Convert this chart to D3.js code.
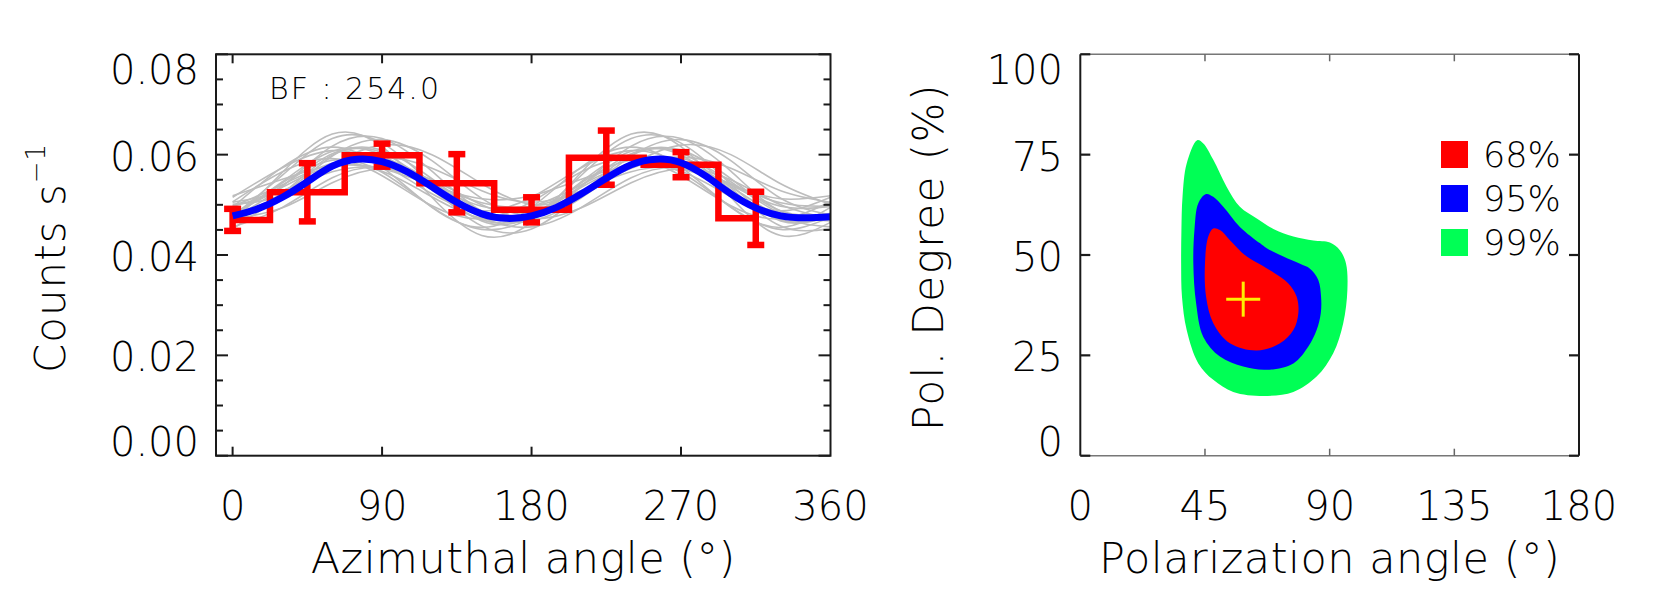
<!DOCTYPE html>
<html><head><meta charset="utf-8">
<script src="https://cdn.jsdelivr.net/npm/d3@7"></script>
<style>
body{margin:0;background:#fff}
svg{display:block}
text{font-family:"DejaVu Sans",sans-serif;font-weight:200;fill:#000}
</style>
</head><body>
<svg id="c" width="1661" height="608"></svg>
<script>
// ---------- data: left panel (modulation curve) ----------
const binCenters = [0, 45, 90, 135, 180, 225, 270, 315];
const binCounts  = [0.0470, 0.0525, 0.0599, 0.0543, 0.0490, 0.0594, 0.0580, 0.0473];
const binErrors  = [0.0022, 0.0058, 0.0023, 0.0058, 0.0025, 0.0054, 0.0025, 0.0053];

const fitAngles = [0,15,30,45,60,75,90,105,120,135,150,165,180,195,210,225,240,255,270,285,300,315,330,345,360];
const fitCounts = [0.0478,0.0492,0.0515,0.0546,0.0577,0.0591,0.0586,0.0566,0.0536,0.0505,0.0482,0.0473,0.0478,
                   0.0495,0.0522,0.0553,0.0580,0.0591,0.0584,0.0557,0.0522,0.0494,0.0478,0.0474,0.0476];

const simAngles = [0,30,60,90,120,150,180,210,240,270,300,330,360];
const sim01 = [0.0465,0.0565,0.0641,0.0616,0.0515,0.0439,0.0465,0.0565,0.0641,0.0616,0.0515,0.0439,0.0465];
const sim02 = [0.0477,0.0559,0.0632,0.0623,0.0541,0.0468,0.0477,0.0559,0.0632,0.0623,0.0541,0.0468,0.0477];
const sim03 = [0.0495,0.0575,0.0615,0.0575,0.0495,0.0455,0.0495,0.0575,0.0615,0.0575,0.0495,0.0455,0.0495];
const sim04 = [0.0481,0.0538,0.0602,0.0609,0.0552,0.0488,0.0481,0.0538,0.0602,0.0609,0.0552,0.0488,0.0481];
const sim05 = [0.0468,0.0514,0.0577,0.0593,0.0546,0.0483,0.0468,0.0514,0.0577,0.0593,0.0546,0.0483,0.0468];
const sim06 = [0.0480,0.0522,0.0597,0.0630,0.0588,0.0513,0.0480,0.0522,0.0597,0.0630,0.0588,0.0513,0.0480];
const sim07 = [0.0501,0.0520,0.0579,0.0619,0.0600,0.0542,0.0501,0.0520,0.0579,0.0619,0.0600,0.0542,0.0501];
const sim08 = [0.0483,0.0535,0.0577,0.0567,0.0516,0.0473,0.0483,0.0535,0.0577,0.0567,0.0516,0.0473,0.0483];
const sim09 = [0.0497,0.0540,0.0583,0.0583,0.0540,0.0497,0.0497,0.0540,0.0583,0.0583,0.0540,0.0497,0.0497];
const sim10 = [0.0475,0.0544,0.0589,0.0565,0.0496,0.0451,0.0475,0.0544,0.0589,0.0565,0.0496,0.0451,0.0475];
const sim11 = [0.0497,0.0528,0.0566,0.0573,0.0542,0.0504,0.0497,0.0528,0.0566,0.0573,0.0542,0.0504,0.0497];
const sim12 = [0.0515,0.0574,0.0608,0.0582,0.0522,0.0488,0.0515,0.0574,0.0608,0.0582,0.0522,0.0488,0.0515];
const sim13 = [0.0452,0.0522,0.0599,0.0604,0.0534,0.0458,0.0452,0.0522,0.0599,0.0604,0.0534,0.0458,0.0452];
const sim14 = [0.0505,0.0528,0.0573,0.0595,0.0573,0.0528,0.0505,0.0528,0.0573,0.0595,0.0573,0.0528,0.0505];
const sim15 = [0.0456,0.0495,0.0554,0.0574,0.0536,0.0476,0.0456,0.0495,0.0554,0.0574,0.0536,0.0476,0.0456];
const sim16 = [0.0477,0.0546,0.0607,0.0599,0.0530,0.0470,0.0477,0.0546,0.0607,0.0599,0.0530,0.0470,0.0477];
const sim17 = [0.0518,0.0551,0.0578,0.0572,0.0539,0.0512,0.0518,0.0551,0.0578,0.0572,0.0539,0.0512,0.0518];
const sim18 = [0.0472,0.0494,0.0544,0.0572,0.0550,0.0500,0.0472,0.0494,0.0544,0.0572,0.0550,0.0500,0.0472];
const sim19 = [0.0472,0.0537,0.0617,0.0632,0.0567,0.0487,0.0472,0.0537,0.0617,0.0632,0.0567,0.0487,0.0472];
const sim20 = [0.0506,0.0566,0.0592,0.0558,0.0498,0.0472,0.0506,0.0566,0.0592,0.0558,0.0498,0.0472,0.0506];
const simCurves = [sim01,sim02,sim03,sim04,sim05,sim06,sim07,sim08,sim09,sim10,sim11,sim12,sim13,sim14,sim15,sim16,sim17,sim18,sim19,sim20];

const bfText = "BF : 254.0";
const azTicks = [0, 90, 180, 270, 360];
const countTicks = [0, 0.02, 0.04, 0.06, 0.08];
const countTickLabels = ["0.00", "0.02", "0.04", "0.06", "0.08"];
const countMinor = [0.005,0.01,0.015,0.025,0.03,0.035,0.045,0.05,0.055,0.065,0.07,0.075];

// ---------- data: right panel (confidence contours) ----------
const polAngleTicks = [0, 45, 90, 135, 180];
const polDegTicks = [0, 25, 50, 75, 100];
const contour99 = [[42.2,78.6],[38.4,72.8],[36.9,64.5],[36.5,56.2],[36.4,47.9],[36.7,39.6],[38.4,31.3],[42.6,23.0],
  [48.0,18.9],[55.2,15.9],[66.1,14.9],[76.9,15.9],[85.3,19.7],[91.3,25.5],[94.9,33.0],[96.4,41.3],[95.9,47.9],
  [93.7,51.2],[90.1,53.1],[84.1,53.6],[76.9,54.6],[69.7,56.5],[63.7,59.1],[57.6,62.0],[52.8,67.0],[48.0,73.7],[44.4,77.8]];
const contour95 = [[45.4,65.2],[42.6,62.9],[41.2,56.2],[40.8,47.9],[41.8,38.0],[44.4,29.6],[50.4,24.7],[58.8,22.2],
  [67.3,21.4],[76.9,23.0],[82.3,27.2],[85.3,31.3],[86.8,35.5],[86.9,39.6],[85.9,43.8],[82.9,46.6],[79.3,47.8],
  [73.3,49.6],[67.3,51.7],[64.9,52.9],[57.6,57.0],[51.6,62.0],[48.0,64.5]];
const contour68 = [[48.0,56.6],[46.2,54.6],[45.0,47.9],[45.4,39.6],[48.0,33.0],[54.0,28.0],[63.7,26.2],[72.1,28.0],
  [76.9,31.3],[78.7,35.5],[78.1,39.6],[75.1,42.9],[70.0,45.5],[66.1,47.2],[60.1,49.6],[54.0,53.7],[50.4,56.2]];
const contourSets = [contour99, contour95, contour68];
const contourColors = ["#00ff55", "#0000ff", "#ff0000"];
const legendLabels = ["68%", "95%", "99%"];
const legendColors = ["#ff0000", "#0000ff", "#00ff55"];
const bestFit = [58.8, 39.0];

// ---------- drawing ----------
const svg = d3.select("#c");
const ink = "#1a1a1a";

// left panel scales
const L = {left:216, right:830.5, top:54.3, bottom:455.7};
const xL = d3.scaleLinear().domain([-10, 360]).range([L.left, L.right]);
const yL = d3.scaleLinear().domain([0, 0.08]).range([L.bottom, L.top]);

const gL = svg.append("g");
gL.append("clipPath").attr("id","clipL").append("rect")
  .attr("x",L.left).attr("y",L.top).attr("width",L.right-L.left).attr("height",L.bottom-L.top);

// grey simulated curves
const simLine = d3.line().x((d,i)=>xL(simAngles[i])).y(d=>yL(d)).curve(d3.curveNatural);
gL.append("g").attr("clip-path","url(#clipL)").selectAll("path").data(simCurves).join("path")
  .attr("d", simLine).attr("fill","none").attr("stroke","#bdbdbd").attr("stroke-width",1.6);

// red histogram (steps between bin midpoints)
const n = binCenters.length;
const stepPts = [];
binCenters.forEach((c,i)=>{
  const lo = i===0 ? c : (binCenters[i-1]+c)/2;
  const hi = i===n-1 ? c : (c+binCenters[i+1])/2;
  stepPts.push([lo, binCounts[i]], [hi, binCounts[i]]);
});
gL.append("path").attr("d", d3.line().x(d=>xL(d[0])).y(d=>yL(d[1]))(stepPts))
  .attr("fill","none").attr("stroke","#ff0000").attr("stroke-width",6.5).attr("stroke-linejoin","miter");

// error bars
const eb = gL.append("g").attr("stroke","#ff0000").attr("stroke-width",6.5);
binCenters.forEach((c,i)=>{
  const x = xL(c), y1 = yL(binCounts[i]+binErrors[i]), y2 = yL(binCounts[i]-binErrors[i]);
  eb.append("line").attr("x1",x).attr("x2",x).attr("y1",y1).attr("y2",y2);
  eb.append("line").attr("x1",x-8.5).attr("x2",x+8.5).attr("y1",y1).attr("y2",y1);
  eb.append("line").attr("x1",x-8.5).attr("x2",x+8.5).attr("y1",y2).attr("y2",y2);
});

// blue best-fit curve
gL.append("path").datum(fitCounts)
  .attr("d", d3.line().x((d,i)=>xL(fitAngles[i])).y(d=>yL(d)).curve(d3.curveNatural))
  .attr("fill","none").attr("stroke","#0000ff").attr("stroke-width",7).attr("stroke-linecap","butt");

// frame + ticks (left)
gL.append("rect").attr("x",L.left).attr("y",L.top).attr("width",L.right-L.left).attr("height",L.bottom-L.top)
  .attr("fill","none").attr("stroke",ink).attr("stroke-width",2);
const tk = gL.append("g").attr("stroke",ink).attr("stroke-width",2);
countTicks.forEach(v=>{
  tk.append("line").attr("x1",L.left).attr("x2",L.left+12).attr("y1",yL(v)).attr("y2",yL(v));
  tk.append("line").attr("x1",L.right-12).attr("x2",L.right).attr("y1",yL(v)).attr("y2",yL(v));
});
countMinor.forEach(v=>{
  tk.append("line").attr("x1",L.left).attr("x2",L.left+7).attr("y1",yL(v)).attr("y2",yL(v));
  tk.append("line").attr("x1",L.right-7).attr("x2",L.right).attr("y1",yL(v)).attr("y2",yL(v));
});
azTicks.slice(0,4).forEach(v=>{
  tk.append("line").attr("x1",xL(v)).attr("x2",xL(v)).attr("y1",L.bottom).attr("y2",L.bottom-9);
  tk.append("line").attr("x1",xL(v)).attr("x2",xL(v)).attr("y1",L.top).attr("y2",L.top+9);
});

function yLabelBaseline(y, top, bottom){ return Math.max(top+30, Math.min(bottom, y+16)); }

const FS = 40;
countTicks.forEach((v,i)=>{
  gL.append("text").attr("x",199).attr("y",yLabelBaseline(yL(v),L.top,L.bottom))
    .attr("text-anchor","end").attr("font-size",FS).text(countTickLabels[i]);
});
azTicks.forEach(v=>{
  gL.append("text").attr("x",xL(v)).attr("y",520).attr("text-anchor","middle").attr("font-size",FS).text(v);
});
gL.append("text").attr("x",(L.left+L.right)/2).attr("y",573).attr("text-anchor","middle")
  .attr("font-size",43).attr("letter-spacing",0.5).text("Azimuthal angle (°)");
const yt = gL.append("text").attr("transform","translate(65,258) rotate(-90)").attr("text-anchor","middle")
  .attr("font-size",42).attr("letter-spacing",1);
yt.append("tspan").text("Counts s");
yt.append("tspan").attr("font-size",26).attr("dy",-20).text("−1");
gL.append("text").attr("x",269).attr("y",99).attr("font-size",30).attr("letter-spacing",2).text(bfText);

// right panel
const R = {left:1080.3, right:1579, top:54.3, bottom:455.7};
const xR = d3.scaleLinear().domain([0,180]).range([R.left,R.right]);
const yR = d3.scaleLinear().domain([0,100]).range([R.bottom,R.top]);
const gR = svg.append("g");

const cLine = d3.line().x(d=>xR(d[0])).y(d=>yR(d[1])).curve(d3.curveCatmullRomClosed.alpha(0.5));
gR.selectAll("path.ct").data(contourSets).join("path").attr("class","ct")
  .attr("d", cLine).attr("fill",(d,i)=>contourColors[i]).attr("stroke","none");

// best-fit cross
const bx = xR(bestFit[0]), by = yR(bestFit[1]);
gR.append("line").attr("x1",bx-17).attr("x2",bx+17).attr("y1",by).attr("y2",by).attr("stroke","#ffee00").attr("stroke-width",3);
gR.append("line").attr("x1",bx).attr("x2",bx).attr("y1",by-17.5).attr("y2",by+17.5).attr("stroke","#ffee00").attr("stroke-width",3);

// frame
gR.append("line").attr("x1",R.left).attr("x2",R.right).attr("y1",R.top).attr("y2",R.top).attr("stroke","#777").attr("stroke-width",1.5);
gR.append("line").attr("x1",R.left).attr("x2",R.right).attr("y1",R.bottom).attr("y2",R.bottom).attr("stroke","#777").attr("stroke-width",1.5);
gR.append("line").attr("x1",R.left).attr("x2",R.left).attr("y1",R.top).attr("y2",R.bottom).attr("stroke",ink).attr("stroke-width",2);
gR.append("line").attr("x1",R.right).attr("x2",R.right).attr("y1",R.top).attr("y2",R.bottom).attr("stroke",ink).attr("stroke-width",2);
polDegTicks.forEach(v=>{
  gR.append("line").attr("x1",R.left).attr("x2",R.left+10).attr("y1",yR(v)).attr("y2",yR(v)).attr("stroke",ink).attr("stroke-width",2.2);
  gR.append("line").attr("x1",R.right-10).attr("x2",R.right).attr("y1",yR(v)).attr("y2",yR(v)).attr("stroke",ink).attr("stroke-width",2.2);
});
polAngleTicks.slice(1,4).forEach(v=>{
  gR.append("line").attr("x1",xR(v)).attr("x2",xR(v)).attr("y1",R.bottom).attr("y2",R.bottom-7).attr("stroke","#666").attr("stroke-width",1.5);
  gR.append("line").attr("x1",xR(v)).attr("x2",xR(v)).attr("y1",R.top).attr("y2",R.top+7).attr("stroke","#666").attr("stroke-width",1.5);
});
polDegTicks.forEach(v=>{
  gR.append("text").attr("x",1063).attr("y",yLabelBaseline(yR(v),R.top,R.bottom))
    .attr("text-anchor","end").attr("font-size",FS).text(v);
});
polAngleTicks.forEach(v=>{
  gR.append("text").attr("x",xR(v)).attr("y",520).attr("text-anchor","middle").attr("font-size",FS).text(v);
});
gR.append("text").attr("x",(R.left+R.right)/2).attr("y",573).attr("text-anchor","middle")
  .attr("font-size",43).attr("letter-spacing",0.5).text("Polarization angle (°)");
gR.append("text").attr("transform","translate(943,257) rotate(-90)").attr("text-anchor","middle")
  .attr("font-size",42).attr("letter-spacing",1.5).text("Pol. Degree (%)");

// legend
legendLabels.forEach((lab,i)=>{
  const y0 = 141 + i*44;
  gR.append("rect").attr("x",1441).attr("y",y0).attr("width",27).attr("height",27).attr("fill",legendColors[i]);
  gR.append("text").attr("x",1483).attr("y",y0+25.5).attr("font-size",35).text(lab);
});
</script>
</body></html>
